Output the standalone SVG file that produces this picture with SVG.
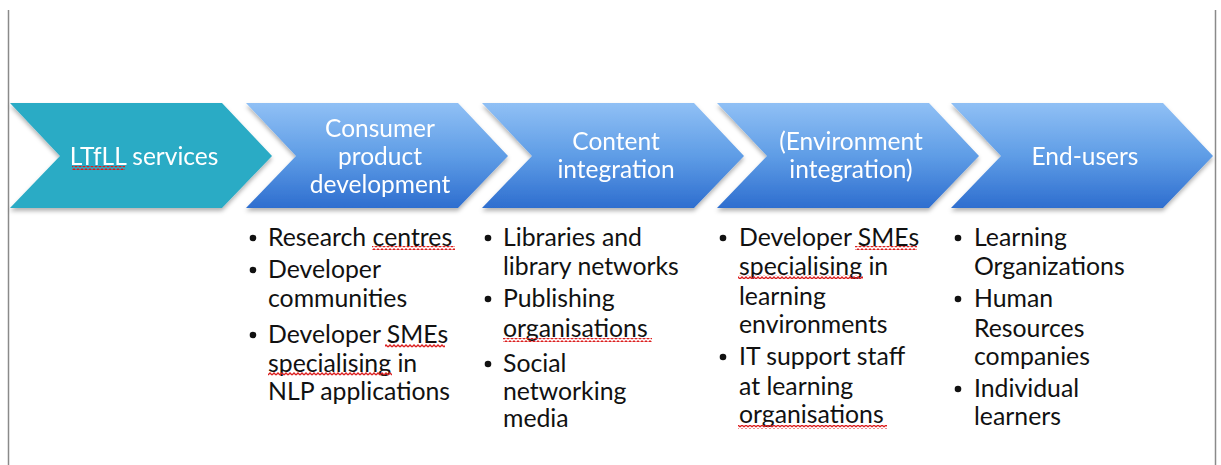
<svg xmlns="http://www.w3.org/2000/svg" width="1221" height="465" viewBox="0 0 1221 465">
  <style>
    .frame { stroke: #8a8a8a; stroke-width: 1.5; fill: none; }
    .head { font-family: Lato, "Open Sans", sans-serif; font-size: 24.5px; fill: #ffffff; text-anchor: middle; }
    .item { font-family: Lato, "Open Sans", sans-serif; font-size: 24.8px; fill: #111111; }
    .dot { fill: #111111; }
    .squiggle { fill: url(#wave); }
  </style>
  <defs>
    <linearGradient id="blueFill" x1="0" y1="0" x2="0" y2="1">
      <stop offset="0" stop-color="#90c0f5"/>
      <stop offset="0.5" stop-color="#5f9de6"/>
      <stop offset="1" stop-color="#2e6ecf"/>
    </linearGradient>
    <filter id="shadow" x="-5%" y="-10%" width="110%" height="130%">
      <feDropShadow dx="0" dy="3" stdDeviation="2" flood-color="#000" flood-opacity="0.3"/>
    </filter>
    <!-- chevron shape: top-left at origin, 105 tall -->
    <path id="chevron" d="M0,0 L212,0 L262,53 L212,105 L0,105 L50,53 Z"/>
    <pattern id="wave" width="4" height="4" patternUnits="userSpaceOnUse">
      <path d="M0,3 L2,1 L4,3" fill="none" stroke="#dc1f1f" stroke-width="1.3"/>
    </pattern>
  </defs>

  <!-- page frame edges -->
  <line class="frame" x1="8.5" y1="10" x2="8.5" y2="465"/>
  <line class="frame" x1="1215.5" y1="10" x2="1215.5" y2="465" stroke="#a0a0a0"/>

  <!-- process chevrons -->
  <g id="node-ltfll" filter="url(#shadow)">
    <use href="#chevron" x="10" y="103" fill="#2babc5"/>
    <text class="head" x="144" y="165">LTfLL services</text>
    <rect class="squiggle" x="72" y="166" width="53" height="4"/>
  </g>
  <g id="node-consumer" filter="url(#shadow)">
    <use href="#chevron" x="246" y="103" fill="url(#blueFill)"/>
    <text class="head" x="380" y="137">Consumer</text>
    <text class="head" x="380" y="165">product</text>
    <text class="head" x="380" y="193">development</text>
  </g>
  <g id="node-content" filter="url(#shadow)">
    <use href="#chevron" x="482" y="103" fill="url(#blueFill)"/>
    <text class="head" x="616" y="150">Content</text>
    <text class="head" x="616" y="178">integration</text>
  </g>
  <g id="node-environment" filter="url(#shadow)">
    <use href="#chevron" x="717" y="103" fill="url(#blueFill)"/>
    <text class="head" x="851" y="150">(Environment</text>
    <text class="head" x="851" y="178">integration)</text>
  </g>
  <g id="node-endusers" filter="url(#shadow)">
    <use href="#chevron" x="951" y="103" fill="url(#blueFill)"/>
    <text class="head" x="1085" y="165">End-users</text>
  </g>

  <g id="connectors"/>

  <!-- stakeholder lists -->
  <g id="list-consumer">
    <circle class="dot" cx="253" cy="238" r="3.3"/>
    <circle class="dot" cx="253" cy="270" r="3.3"/>
    <circle class="dot" cx="253" cy="335" r="3.3"/>
    <text class="item" x="268" y="246">Research centres</text>
    <text class="item" x="268" y="278">Developer</text>
    <text class="item" x="268" y="307">communities</text>
    <text class="item" x="268" y="343">Developer SMEs</text>
    <text class="item" x="268" y="372">specialising in</text>
    <text class="item" x="268" y="400">NLP applications</text>
    <rect class="squiggle" x="372" y="246" width="83" height="4"/>
    <rect class="squiggle" x="385" y="344" width="60" height="4"/>
    <rect class="squiggle" x="268" y="372" width="124" height="4"/>
  </g>
  <g id="list-content">
    <circle class="dot" cx="488" cy="238" r="3.3"/>
    <circle class="dot" cx="488" cy="299" r="3.3"/>
    <circle class="dot" cx="488" cy="364" r="3.3"/>
    <text class="item" x="503" y="246">Libraries and</text>
    <text class="item" x="503" y="275">library networks</text>
    <text class="item" x="503" y="307">Publishing</text>
    <text class="item" x="503" y="337">organisations</text>
    <text class="item" x="503" y="372">Social</text>
    <text class="item" x="503" y="400">networking</text>
    <text class="item" x="503" y="427">media</text>
    <rect class="squiggle" x="503" y="338" width="149" height="4"/>
  </g>
  <g id="list-environment">
    <circle class="dot" cx="723" cy="238" r="3.3"/>
    <circle class="dot" cx="723" cy="357" r="3.3"/>
    <text class="item" x="739" y="246">Developer SMEs</text>
    <text class="item" x="739" y="275">specialising in</text>
    <text class="item" x="739" y="305">learning</text>
    <text class="item" x="739" y="333">environments</text>
    <text class="item" x="739" y="365">IT support staff</text>
    <text class="item" x="739" y="395">at learning</text>
    <text class="item" x="739" y="423">organisations</text>
    <rect class="squiggle" x="855" y="246" width="62" height="4"/>
    <rect class="squiggle" x="738" y="275" width="125" height="4"/>
    <rect class="squiggle" x="738" y="425" width="149" height="4"/>
  </g>
  <g id="list-endusers">
    <circle class="dot" cx="958" cy="238" r="3.3"/>
    <circle class="dot" cx="958" cy="299" r="3.3"/>
    <circle class="dot" cx="958" cy="389" r="3.3"/>
    <text class="item" x="974" y="246">Learning</text>
    <text class="item" x="974" y="275">Organizations</text>
    <text class="item" x="974" y="307">Human</text>
    <text class="item" x="974" y="337">Resources</text>
    <text class="item" x="974" y="365">companies</text>
    <text class="item" x="974" y="397">Individual</text>
    <text class="item" x="974" y="425">learners</text>
  </g>
</svg>
